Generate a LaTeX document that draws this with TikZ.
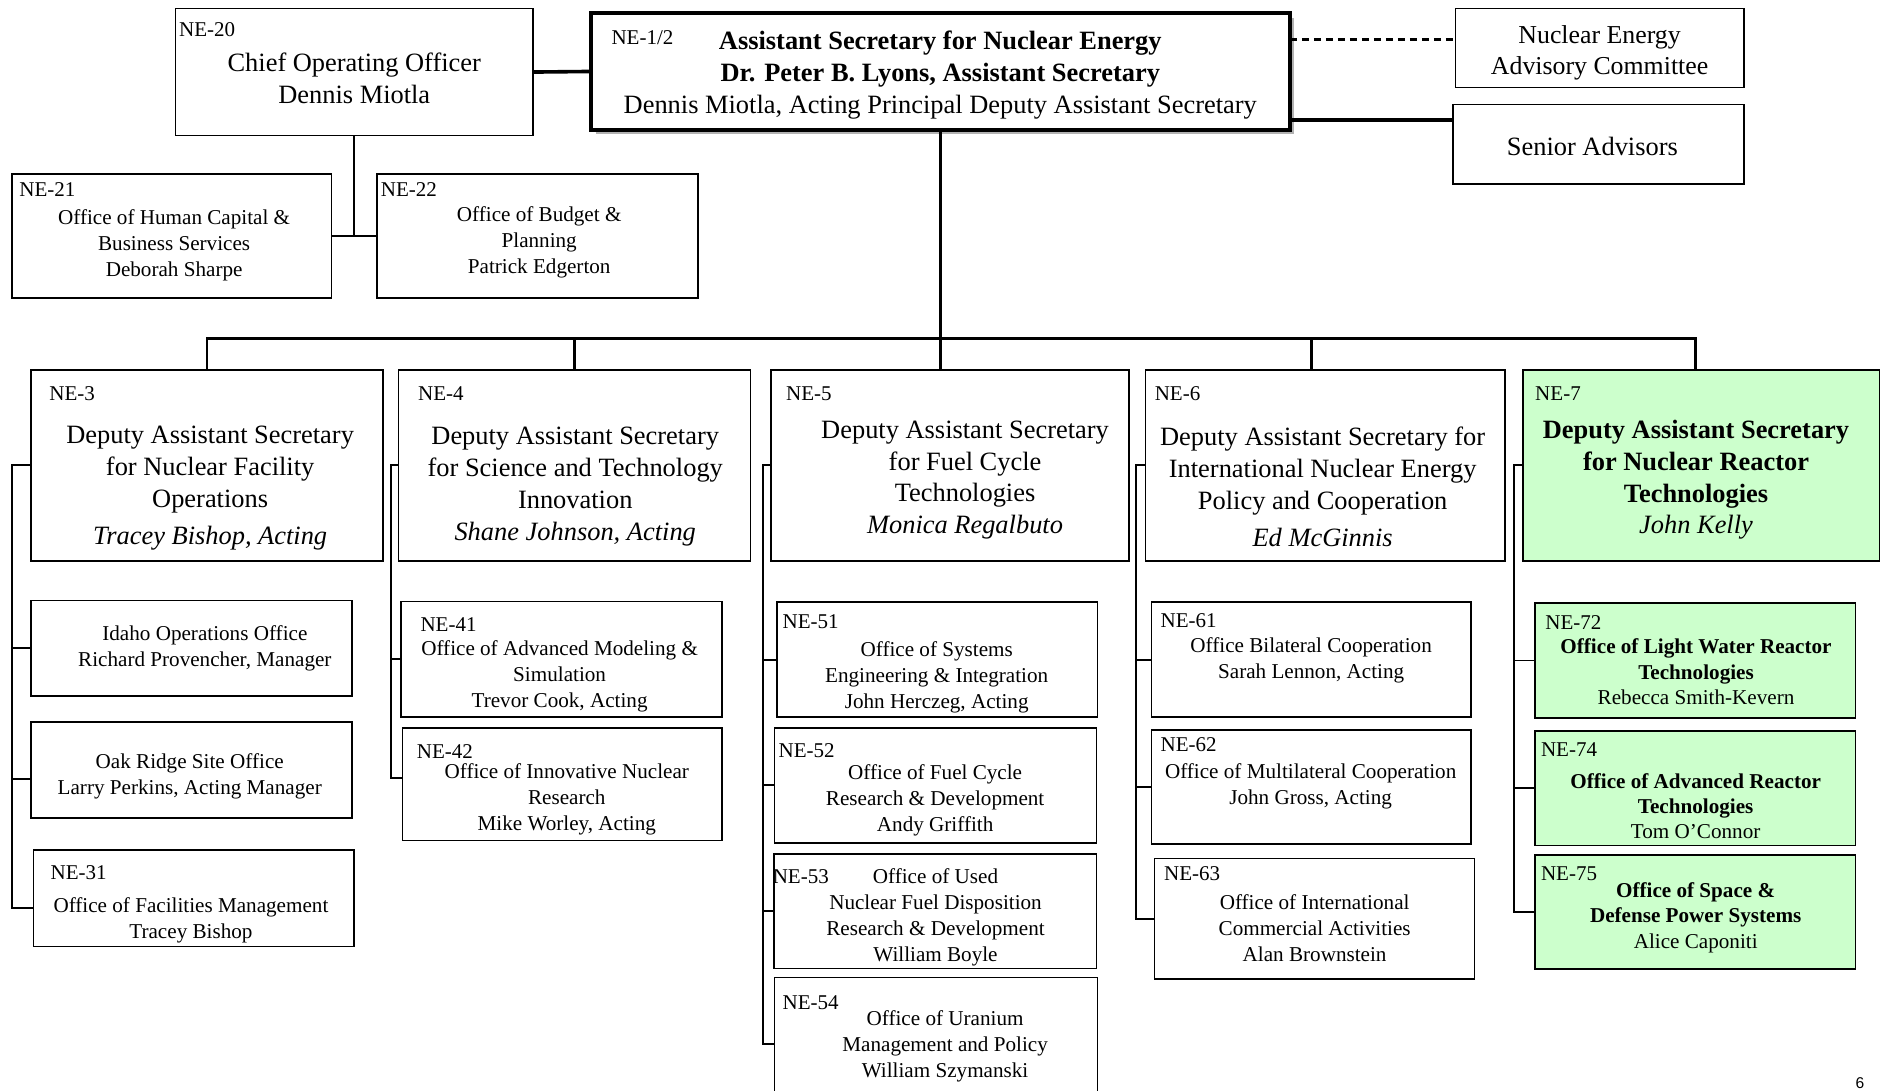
\documentclass[tikz,border=0pt]{standalone}
\usepackage{fontspec}
\setmainfont{Liberation Serif}
\newfontfamily\pagefont{Liberation Sans}
\definecolor{lgreen}{HTML}{CCFFCC}
\begin{document}
\begin{tikzpicture}[x=1pt,y=-1pt,
  box/.style={draw, line width=1.3pt, inner sep=0pt, outer sep=0pt, anchor=north west},
  gbox/.style={box, fill=lgreen},
  big/.style={align=center, inner sep=0pt, yshift=-2pt, font=\fontsize{22}{26.5}\selectfont},
  sm/.style={align=center, inner sep=0pt, yshift=-1.5pt, font=\fontsize{17.6}{21.7}\selectfont},
  smg/.style={align=center, inner sep=0pt, yshift=-1.5pt, font=\fontsize{17.6}{21}\selectfont},
  lab/.style={anchor=west, inner sep=0pt, font=\fontsize{17.5}{20}\selectfont},
  conn/.style={line width=1.6pt},
  busline/.style={line width=2.2pt},
  heavy/.style={line width=3pt},
  dashline/.style={line width=2pt, dash pattern=on 6pt off 4pt},
]
\useasboundingbox (0,0) rectangle (1568,908);
\fill[white] (0,0) rectangle (1568,908);

% ---------- top level ----------
\draw[gray!60, line width=1.5pt] (496,110.5) -- (1076.5,110.5) -- (1076.5,15);
\node[box, minimum width=298pt, minimum height=106pt] (ne20) at (146,7) {};
\node[box, line width=3pt, minimum width=582pt, minimum height=97pt] (ne12) at (492,11) {};
\node[box, minimum width=240pt, minimum height=66pt] (neac) at (1212,7) {};
\node[box, minimum width=242pt, minimum height=66pt] (sa) at (1210,87) {};
\node[box, minimum width=266pt, minimum height=103pt] (ne21) at (10,145) {};
\node[box, minimum width=267pt, minimum height=103pt] (ne22) at (314,145) {};

\node[lab] (l20) at (149,25) {NE-20};
\node[big] (t20) at (295,63.5) {Chief Operating Officer\\Dennis Miotla};
\node[lab] (l12) at (509,31) {NE-1/2};
\node[big] (t12) at (783,60.5) {\textbf{Assistant Secretary for Nuclear Energy}\\\textbf{Dr. Peter B. Lyons, Assistant Secretary}\\Dennis Miotla, Acting Principal Deputy Assistant Secretary};
\node[big, font=\fontsize{21.5}{26}\selectfont] (tnac) at (1332,42) {Nuclear Energy\\Advisory Committee};
\node[big] (tsa) at (1326,120) {Senior Advisors};
\node[lab] (l21) at (16,158) {NE-21};
\node[sm] (t21) at (145,202.5) {Office of Human Capital \&\\Business Services\\Deborah Sharpe};
\node[lab] (l22) at (317,158) {NE-22};
\node[sm] (t22) at (449,200) {Office of Budget \&\\Planning\\Patrick Edgerton};

% ---------- DAS row ----------
\node[box, minimum width=293pt, minimum height=159pt] (ne3) at (26,308) {};
\node[box, minimum width=293pt, minimum height=159pt] (ne4) at (332,308) {};
\node[box, minimum width=298pt, minimum height=159pt] (ne5) at (642,308) {};
\node[box, minimum width=299pt, minimum height=159pt] (ne6) at (954,308) {};
\node[gbox, minimum width=297pt, minimum height=159pt] (ne7) at (1268,308) {};

\node[lab] (l3) at (41,327.7) {NE-3};
\node[big] (t3) at (175,404.5) {Deputy Assistant Secretary\\for Nuclear Facility\\Operations\\[4pt]\textit{Tracey Bishop, Acting}};
\node[lab] (l4) at (348,327.7) {NE-4};
\node[big] (t4) at (479,403.2) {Deputy Assistant Secretary\\for Science and Technology\\Innovation\\\textit{Shane Johnson, Acting}};
\node[lab] (l5) at (654.4,327.7) {NE-5};
\node[big] (t5) at (803.6,397.7) {Deputy Assistant Secretary\\for Fuel Cycle\\Technologies\\\textit{Monica Regalbuto}};
\node[lab] (l6) at (961.4,327.7) {NE-6};
\node[big] (t6) at (1101.4,403.4) {Deputy Assistant Secretary for\\International Nuclear Energy\\Policy and Cooperation\\[4pt]\textit{Ed McGinnis}};
\node[lab] (l7) at (1278.2,327.7) {NE-7};
\node[big] (t7) at (1412.3,397.6) {\textbf{Deputy Assistant Secretary}\\\textbf{for Nuclear Reactor}\\\textbf{Technologies}\\\textit{John Kelly}};

% ---------- NE-3 column ----------
\node[box, minimum width=267pt, minimum height=79.5pt] (idaho) at (26,500) {};
\node[box, minimum width=267pt, minimum height=80pt] (oak) at (26,601) {};
\node[box, minimum width=267pt, minimum height=80pt] (ne31) at (28,708) {};
\node[sm] (tid) at (170.6,538.2) {Idaho Operations Office\\Richard Provencher, Manager};
\node[sm] (tok) at (158,644.7) {Oak Ridge Site Office\\Larry Perkins, Acting Manager};
\node[lab] (l31) at (42,727) {NE-31};
\node[sm] (t31) at (159,764.5) {Office of Facilities Management\\Tracey Bishop};

% ---------- NE-4 column ----------
\node[box, minimum width=267pt, minimum height=96pt] (ne41) at (334,501) {};
\node[box, minimum width=266pt, minimum height=94pt] (ne42) at (335,606) {};
\node[lab] (l41) at (350,520) {NE-41};
\node[sm] (t41) at (466,562) {Office of Advanced Modeling \&\\Simulation\\Trevor Cook, Acting};
\node[lab] (l42) at (347,625.5) {NE-42};
\node[sm] (t42) at (472,664.3) {Office of Innovative Nuclear\\Research\\Mike Worley, Acting};

% ---------- NE-5 column ----------
\node[box, minimum width=267pt, minimum height=95.5pt] (ne51) at (647,501.5) {};
\node[box, minimum width=268pt, minimum height=96pt] (ne52) at (645,606) {};
\node[box, minimum width=268.5pt, minimum height=95.5pt] (ne53) at (644.5,711) {};
\node[box, minimum width=269pt, minimum height=120pt] (ne54) at (645,814) {};
\node[lab] (l51) at (651.5,517.5) {NE-51};
\node[sm] (t51) at (780,562.5) {Office of Systems\\Engineering \& Integration\\John Herczeg, Acting};
\node[lab] (l52) at (648.2,625) {NE-52};
\node[sm] (t52) at (778.7,665.3) {Office of Fuel Cycle\\Research \& Development\\Andy Griffith};
\node[lab] (l53) at (643.3,729.7) {NE-53};
\node[sm] (t53) at (779,762.3) {Office of Used\\Nuclear Fuel Disposition\\Research \& Development\\William Boyle};
\node[lab] (l54) at (651.5,835.2) {NE-54};
\node[sm] (t54) at (787,870) {Office of Uranium\\Management and Policy\\William Szymanski};

% ---------- NE-6 column ----------
\node[box, minimum width=266pt, minimum height=95.5pt] (ne61) at (959,501.5) {};
\node[box, minimum width=266pt, minimum height=95pt] (ne62) at (959,608) {};
\node[box, minimum width=266.5pt, minimum height=100pt] (ne63) at (961.5,715) {};
\node[lab] (l61) at (966.3,517.1) {NE-61};
\node[sm] (t61) at (1091.8,548.2) {Office Bilateral Cooperation\\Sarah Lennon, Acting};
\node[lab] (l62) at (966.3,620.3) {NE-62};
\node[sm] (t62) at (1091.4,652.9) {Office of Multilateral Cooperation\\John Gross, Acting};
\node[lab] (l63) at (969.2,727.8) {NE-63};
\node[sm] (t63) at (1094.7,771.3) {Office of International\\Commercial Activities\\Alan Brownstein};

% ---------- NE-7 column ----------
\node[gbox, minimum width=267pt, minimum height=96pt] (ne72) at (1278,502) {};
\node[gbox, minimum width=267pt, minimum height=95.5pt] (ne74) at (1278,608.5) {};
\node[gbox, minimum width=267pt, minimum height=95pt] (ne75) at (1278,712) {};
\node[lab] (l72) at (1286.6,518.5) {NE-72};
\node[smg] (t72) at (1412.3,557.9) {\textbf{Office of Light Water Reactor}\\\textbf{Technologies}\\Rebecca Smith-Kevern};
\node[lab] (l74) at (1283,624.1) {NE-74};
\node[smg] (t74) at (1412,669.6) {\textbf{Office of Advanced Reactor}\\\textbf{Technologies}\\Tom O’Connor};
\node[lab] (l75) at (1283,727.4) {NE-75};
\node[smg] (t75) at (1412,762.7) {\textbf{Office of Space \&}\\\textbf{Defense Power Systems}\\Alice Caponiti};

\node[anchor=base west, inner sep=0pt, font=\pagefont\fontsize{13}{15}\selectfont] (pg) at (1545,906.5) {6};

% ---------- connectors ----------
\coordinate (dl) at (1212,33);
\coordinate (sl) at (1210,100);
\coordinate (bus) at (0,282);
\coordinate (d6) at (1092,282);
\coordinate (d7) at (1412,282);
\coordinate (s3) at (10,0);
\coordinate (s4) at (325.6,0);
\coordinate (s5) at (635,0);
\coordinate (s6) at (945.6,0);
\coordinate (s7) at (1261,0);
\coordinate (oakw) at (26,649);
\coordinate (ne31w) at (28,756);
\coordinate (ne42w) at (335,648);
\coordinate (ne54w) at (645,869.4);

\draw[heavy] (ne20.east) -- (ne12.west);
\draw[dashline] (ne12.east |- dl) -- (dl);
\draw[heavy] (ne12.east |- sl) -- (sl);
\draw[conn] (ne20.south) |- (ne21.east);
\draw[line width=2.4pt] (ne20.south |- ne22.west) -- (ne22.west);

\draw[busline] (ne12.south) -- (ne12.south |- ne5.north);
\draw[busline] (ne3.north) -- (ne3.north |- bus) -- (d7) -- (d7 |- ne7.north);
\draw[busline] (ne4.north) -- (ne4.north |- bus);
\draw[busline] (d6) -- (d6 |- ne6.north);

\draw[conn] (ne3.west) -| (s3 |- ne31w) -- (ne31w);
\draw[conn] (s3 |- idaho.west) -- (idaho.west);
\draw[conn] (s3 |- oakw) -- (oakw);

\draw[conn] (ne4.west) -| (s4 |- ne42w) -- (ne42w);
\draw[conn] (s4 |- ne41.west) -- (ne41.west);

\draw[conn] (ne5.west) -| (s5 |- ne54w) -- (ne54w);
\draw[conn] (s5 |- ne51.west) -- (ne51.west);
\draw[conn] (s5 |- ne52.west) -- (ne52.west);
\draw[conn] (s5 |- ne53.west) -- (ne53.west);

\draw[conn] (ne6.west) -| (s6 |- ne63.west) -- (ne63.west);
\draw[conn] (s6 |- ne61.west) -- (ne61.west);
\draw[conn] (s6 |- ne62.west) -- (ne62.west);

\draw[conn] (ne7.west) -| (s7 |- ne75.west) -- (ne75.west);
\draw[conn] (s7 |- ne72.west) -- (ne72.west);
\draw[conn] (s7 |- ne74.west) -- (ne74.west);
\end{tikzpicture}
\end{document}
